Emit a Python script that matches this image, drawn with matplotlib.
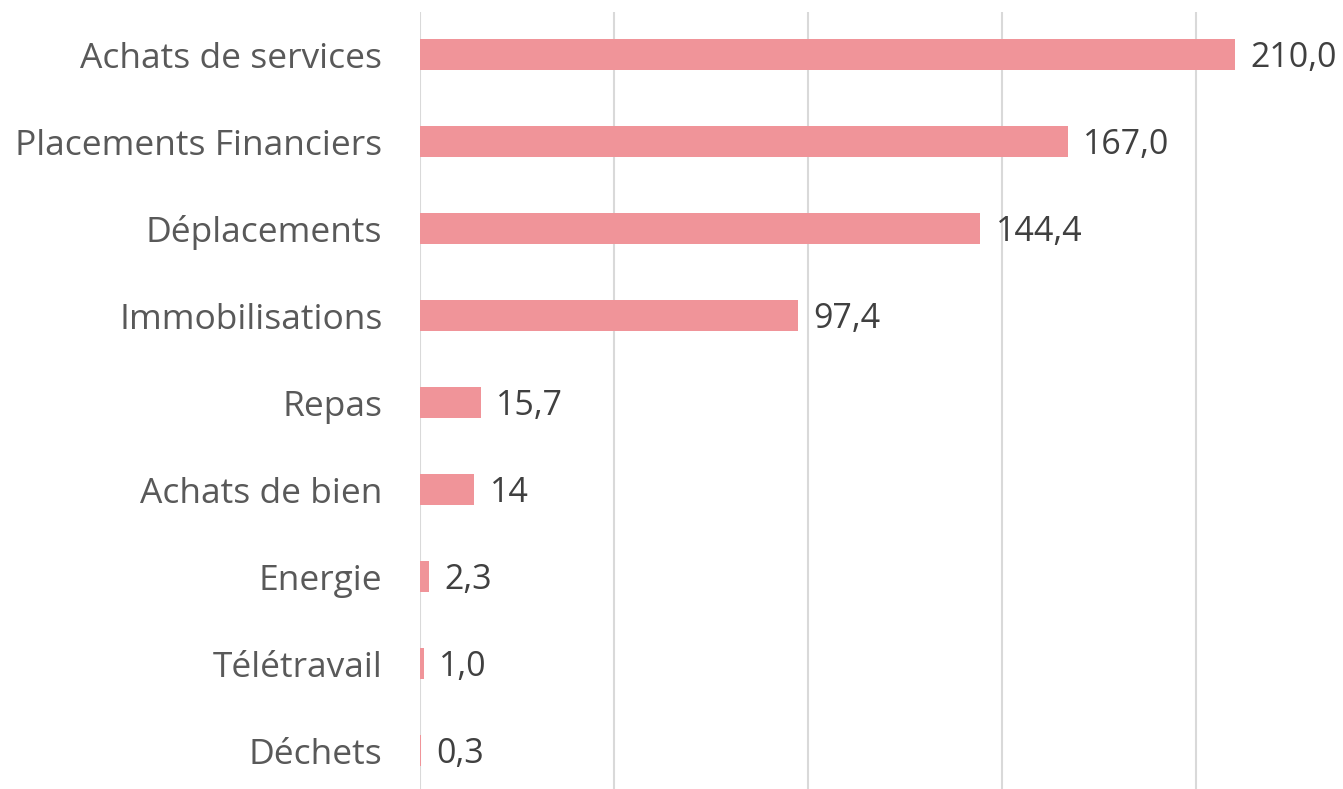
import matplotlib.pyplot as plt

categories = ["Achats de services", "Placements Financiers", "Déplacements",
              "Immobilisations", "Repas", "Achats de bien", "Energie",
              "Télétravail", "Déchets"]
values = [210.0, 167.0, 144.4, 97.4, 15.7, 14, 2.3, 1.0, 0.3]
value_labels = ["210,0", "167,0", "144,4", "97,4", "15,7", "14", "2,3", "1,0", "0,3"]

BAR_COLOR = "#F09499"

plt.rcParams["font.family"] = ["Open Sans", "DejaVu Sans"]

fig = plt.figure(figsize=(13.43, 7.89), dpi=100)
ax = fig.add_axes([0.3127, 0.0, 0.6873, 0.985])

pos = list(range(len(categories)))
ax.barh(pos, values, height=0.356, color=BAR_COLOR, zorder=2)

for p, v, lab in zip(pos, values, value_labels):
    ax.annotate(lab, (v, p), xytext=(11, -2), textcoords="offset points",
                va="center", ha="left", fontsize=24.5, color="#404040")

ax.set_xlim(0, 237.9)
ax.set_ylim(8.437, -0.494)
ax.set_xticks([0, 50, 100, 150, 200])
ax.set_xticklabels([])
ax.set_yticks(pos)
ax.set_yticklabels(categories, fontsize=25.5, color="#595959")
ax.tick_params(axis="y", length=0, pad=27)
ax.tick_params(axis="x", length=0)
ax.grid(axis="x", color="#D9D9D9", linewidth=1.5, zorder=0)
for s in ax.spines.values():
    s.set_visible(False)

fig.savefig("out.png", dpi=100)
